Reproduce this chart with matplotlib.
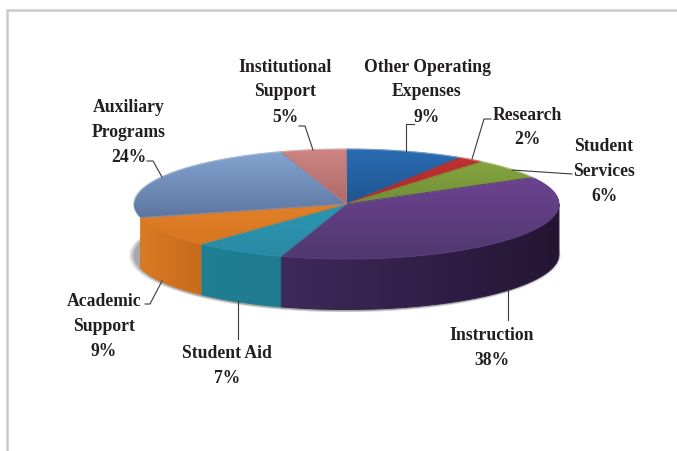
import numpy as np
import matplotlib
matplotlib.use("Agg")
import matplotlib.pyplot as plt
from matplotlib.colors import to_rgb
from matplotlib.patches import Polygon

# Budget shares, clockwise from twelve o'clock
categories = ["Other Operating\nExpenses", "Research", "Student\nServices", "Instruction",
              "Student Aid", "Academic\nSupport", "Auxiliary\nPrograms", "Institutional\nSupport"]
shares = [9, 2, 6, 38, 7, 9, 24, 5]

# Face shading per slice: (top colour, bottom colour)
face_colors = [("#2a6cb4", "#1f5590"), ("#c0312e", "#a82c2c"), ("#86a53f", "#6f8f38"),
               ("#6d4290", "#4f3870"), ("#2b97b0", "#2a8aa6"), ("#e2802a", "#d9751f"),
               ("#83a3d0", "#5d76a0"), ("#cf8684", "#ad6a68")]
# Wall shading per slice: (left colour, right colour)
wall_colors = [None, None, None, ("#3e2a5c", "#241533"), ("#1f7f92", "#217a90"),
               ("#dc7a24", "#c66a1c"), None, None]

CX, CY, RX, RY, DEPTH = 346.5, 205.0, 212.5, 55.0, 50.5
INK = "#231f20"

fig = plt.figure(figsize=(6.77, 4.52), dpi=100, facecolor="white")
ax = fig.add_axes([0, 0, 1, 1])
ax.axis("off")


def rim(theta, dy=0.0):
    t = np.radians(theta)
    return np.column_stack([CX + RX * np.sin(t), CY + dy - RY * np.cos(t)])


def shaded(poly, c0, c1, horizontal, z):
    """Add a polygon filled with a two-stop linear gradient."""
    a, b = np.array(to_rgb(c0)), np.array(to_rgb(c1))
    f = np.linspace(0, 1, 128)[:, None]
    ramp = a * (1 - f) + b * f
    img = ramp[None, :, :] if horizontal else ramp[:, None, :]
    l, t = poly.min(axis=0)
    r, btm = poly.max(axis=0)
    mid = (a + b) / 2
    patch = Polygon(poly, closed=True, facecolor="none", edgecolor=mid, lw=0.7, zorder=z + 0.1)
    ax.add_patch(patch)
    im = ax.imshow(img, extent=(l, r, btm, t), origin="upper", aspect="auto",
                   interpolation="bilinear", zorder=z)
    im.set_clip_path(patch)


# Page frame along the top and left edges
ax.plot([6.5, 6.5, 677], [452, 10.5, 10.5], color="#cccccc", lw=1.8, solid_joinstyle="miter", zorder=1)

# Soft drop shadow under the disc
yy, xx = np.mgrid[0:452, 0:677]
d = np.hypot((xx + 0.5 - (CX - 1.5)) / (RX + 4), (yy + 0.5 - (CY + DEPTH + 1)) / (RY + 2))
alpha = np.clip((1.0 - d) / 0.028, 0, 1) * 0.55
shadow = np.zeros((452, 677, 4))
shadow[..., :3] = 0.38
shadow[..., 3] = alpha
ax.imshow(shadow, extent=(0, 677, 452, 0), origin="upper", aspect="auto", interpolation="bilinear", zorder=2)

edges = 360 * np.cumsum([0] + shares) / sum(shares)

# Front walls, only where the rim faces the viewer
for i, wall in enumerate(wall_colors):
    if wall is None:
        continue
    lo, hi = max(edges[i], 90), min(edges[i + 1], 270)
    th = np.linspace(lo, hi, 80)
    poly = np.vstack([rim(th), rim(th[::-1], DEPTH)])
    shaded(poly, wall[0], wall[1], True, 3)

# Top faces
for i, (c0, c1) in enumerate(face_colors):
    th = np.linspace(edges[i], edges[i + 1], 80)
    poly = np.vstack([[CX, CY], rim(th)])
    shaded(poly, c0, c1, False, 4)

# Pale highlight along the back rim
th = np.linspace(-88, 62, 200)
pts = rim(th)
ax.plot(pts[:, 0], pts[:, 1], color="white", alpha=0.35, lw=0.9, zorder=5)

# Leader lines from the labels to the disc
leaders = [([406, 406, 414], [152, 125, 125]),
           ([472, 484, 491], [160, 120, 120]),
           ([512, 572], [171, 175]),
           ([508, 508], [290, 321]),
           ([238, 238], [302, 340]),
           ([162, 150, 145], [282, 305, 305]),
           ([162, 153, 147], [178, 162, 162]),
           ([313, 305, 299], [151, 127, 127])]
for xs, ys in leaders:
    ax.plot(xs, ys, color="#3a3a3a", lw=0.8, zorder=6)

# Category name and share, centred on each anchor
anchors = [(427, 67), (527, 115), (604, 147), (492, 336),
           (227, 354), (104, 302), (129, 108), (285, 67)]
LINE = 25.0
for name, share, (x, y) in zip(categories, shares, anchors):
    for k, line in enumerate(name.split("\n") + [f"{share}%"]):
        ax.text(x, y + k * LINE, line, ha="center", va="center", color=INK,
                family="Liberation Serif", weight="bold", fontsize=12.7, zorder=7)

ax.set_xlim(0, 677)
ax.set_ylim(452, 0)
fig.savefig("out.png", dpi=100, facecolor="white")
